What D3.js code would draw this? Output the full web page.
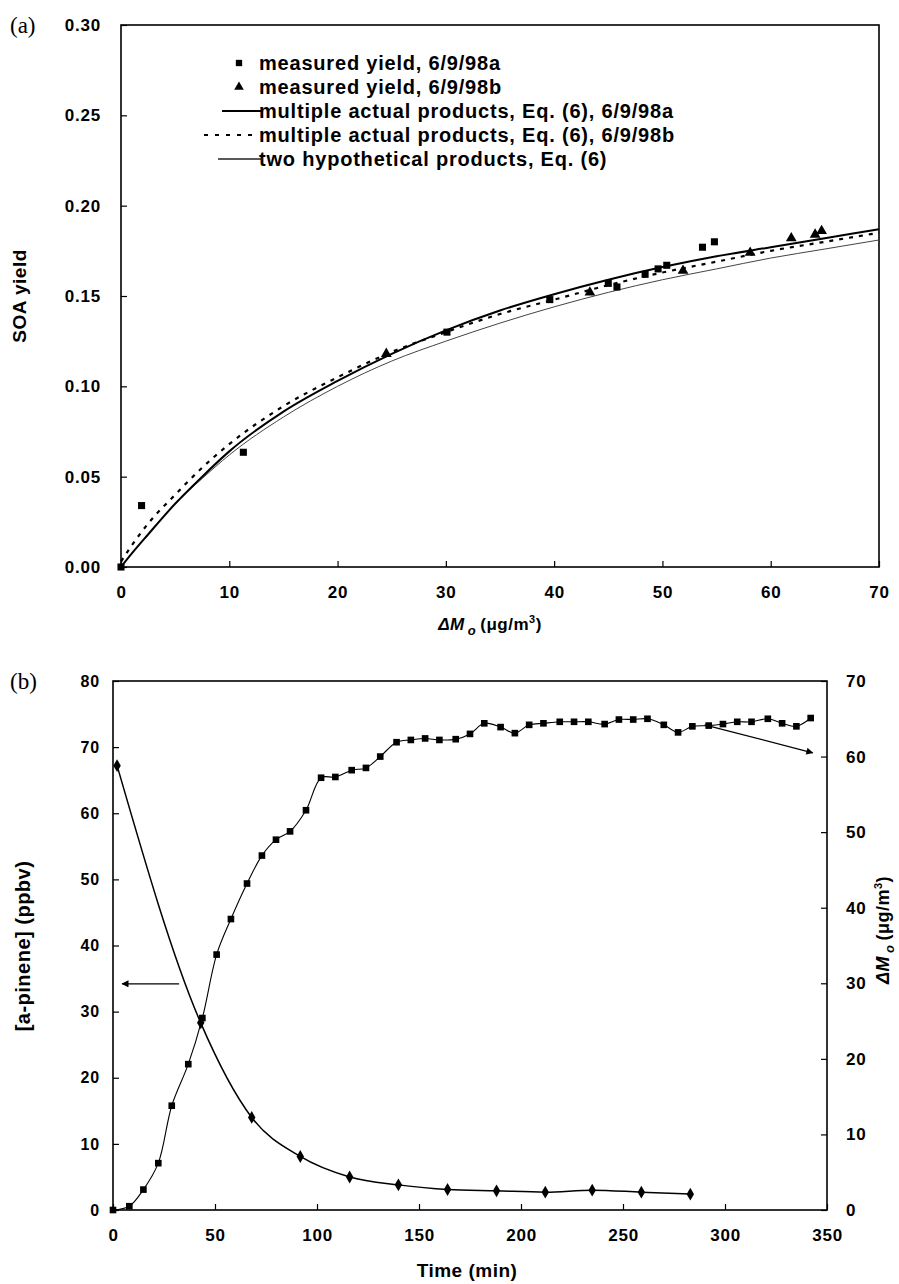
<!DOCTYPE html>
<html>
<head>
<meta charset="utf-8">
<script src="https://cdn.jsdelivr.net/npm/d3@7"></script>
<style>
  body { margin: 0; background: #fff; }
  text { font-family: "Liberation Sans", Arial, sans-serif; font-weight: bold; fill: #000; }
  .panel-tag { font-family: "Liberation Serif", "Times New Roman", serif; font-weight: normal; font-size: 23px; }
</style>
</head>
<body>
<div id="chart-area"></div>
<script>
// ---- panel (a): SOA yield vs ΔMo ----
var yieldA = [[0, 0], [1.9, 0.034], [11.3, 0.0635], [30.1, 0.130], [39.6, 0.148], [45.0, 0.157],
  [45.8, 0.155], [48.4, 0.162], [49.6, 0.165], [50.4, 0.167], [53.7, 0.177], [54.8, 0.180]];
var yieldB = [[24.5, 0.118], [43.3, 0.152], [51.9, 0.164], [58.1, 0.174], [61.9, 0.182], [64.1, 0.184], [64.7, 0.186]];

var curveX = [0, 1, 2.5, 5, 7.5, 10, 15, 20, 25, 30, 35, 40, 45, 50, 55, 60, 65, 70];
var multiA = [0, 0.0075, 0.018, 0.035, 0.050, 0.064, 0.086, 0.103, 0.118, 0.131, 0.142, 0.151, 0.159, 0.166, 0.172, 0.177, 0.182, 0.187];
var multiB = [0.003, 0.012, 0.024, 0.040, 0.055, 0.068, 0.089, 0.105, 0.119, 0.130, 0.140, 0.148, 0.156, 0.163, 0.169, 0.175, 0.180, 0.185];
var twoHyp = [0, 0.0075, 0.018, 0.035, 0.049, 0.062, 0.083, 0.100, 0.114, 0.125, 0.135, 0.144, 0.152, 0.159, 0.165, 0.171, 0.176, 0.181];

var xTicksA = [0, 10, 20, 30, 40, 50, 60, 70];
var yTicksA = [0, 0.05, 0.10, 0.15, 0.20, 0.25, 0.30];

var legendA = ["measured yield, 6/9/98a", "measured yield, 6/9/98b",
  "multiple actual products, Eq. (6), 6/9/98a", "multiple actual products, Eq. (6), 6/9/98b",
  "two hypothetical products, Eq. (6)"];

// ---- panel (b): time series ----
var timeSq = [0, 8, 14.9, 22.2, 28.8, 36.9, 43.8, 50.8, 57.8, 65.7, 73, 79.9, 86.8, 94.6,
  102, 109, 117, 124, 131, 139, 146, 153, 160, 168, 175, 182, 190, 197, 204, 211, 219, 226,
  233, 241, 248, 255, 262, 270, 277, 284, 292, 299, 306, 313, 321, 328, 335, 342];
var dMo = [0, 0.5, 2.7, 6.2, 13.8, 19.3, 25.4, 33.8, 38.5, 43.2, 46.9, 49.0, 50.1, 52.9,
  57.2, 57.3, 58.2, 58.5, 60.0, 61.9, 62.2, 62.4, 62.2, 62.3, 63.0, 64.4, 63.9, 63.1, 64.2, 64.4, 64.6, 64.6,
  64.6, 64.3, 64.9, 64.9, 65.0, 64.2, 63.2, 64.0, 64.1, 64.3, 64.6, 64.6, 65.0, 64.4, 64.0, 65.1];

var timeDia = [2, 43, 68, 91.8, 116, 139.9, 164, 188, 211.9, 234.9, 259, 283];
var pinene = [67.2, 28.3, 14.0, 8.1, 5.0, 3.8, 3.1, 2.9, 2.7, 3.0, 2.7, 2.4];

var xTicksB = [0, 50, 100, 150, 200, 250, 300, 350];
var yTicksB = [0, 10, 20, 30, 40, 50, 60, 70, 80];
var y2TicksB = [0, 10, 20, 30, 40, 50, 60, 70];

var svg = d3.select("#chart-area").append("svg")
  .attr("width", 899).attr("height", 1284);
svg.append("rect").attr("width", 899).attr("height", 1284).attr("fill", "#fff");

// scales
var xa = d3.scaleLinear().domain([0, 70]).range([121, 879]);
var ya = d3.scaleLinear().domain([0, 0.3]).range([567, 25]);
var xb = d3.scaleLinear().domain([0, 350]).range([113, 827]);
var yb = d3.scaleLinear().domain([0, 80]).range([1210, 681]);
var yb2 = d3.scaleLinear().domain([0, 70]).range([1210, 681]);

function styleAxis(sel, size) {
  sel.select(".domain").remove();
  sel.selectAll("line").attr("stroke", "#000").attr("stroke-width", 1.2);
  sel.selectAll("text").attr("font-size", size + "px")
    .attr("font-family", "'Liberation Sans', Arial, sans-serif").attr("font-weight", "bold")
    .attr("letter-spacing", "0.8px");
}

// ===== panel (a) =====
var ga = svg.append("g");

ga.append("g").attr("transform", "translate(0," + ya(0) + ")")
  .call(d3.axisBottom(xa).tickValues(xTicksA).tickSize(-6).tickPadding(19))
  .call(styleAxis, 17);
ga.append("g").attr("transform", "translate(" + xa(0) + ",0)")
  .call(d3.axisLeft(ya).tickValues(yTicksA).tickSize(-6).tickPadding(20).tickFormat(d3.format(".2f")))
  .call(styleAxis, 17);

ga.append("rect")
  .attr("x", xa(0)).attr("y", ya(0.3))
  .attr("width", xa(70) - xa(0)).attr("height", ya(0) - ya(0.3))
  .attr("fill", "none").attr("stroke", "#000").attr("stroke-width", 1.6);

var lineA = d3.line().x(d => xa(d[0])).y(d => ya(d[1])).curve(d3.curveMonotoneX);
function zip(xs, ys) { return xs.map((x, i) => [x, ys[i]]); }

ga.append("path").datum(zip(curveX, twoHyp)).attr("d", lineA)
  .attr("fill", "none").attr("stroke", "#444").attr("stroke-width", 1);
ga.append("path").datum(zip(curveX, multiB)).attr("d", lineA)
  .attr("fill", "none").attr("stroke", "#000").attr("stroke-width", 2.2).attr("stroke-dasharray", "4,6");
ga.append("path").datum(zip(curveX, multiA)).attr("d", lineA)
  .attr("fill", "none").attr("stroke", "#000").attr("stroke-width", 2);

var sq = d3.symbol().type(d3.symbolSquare).size(50);
var tri = d3.symbol().type(d3.symbolTriangle).size(50);

ga.selectAll(".sqA").data(yieldA).enter().append("path")
  .attr("class", "sqA").attr("d", sq)
  .attr("transform", d => "translate(" + xa(d[0]) + "," + ya(d[1]) + ")");
ga.selectAll(".triB").data(yieldB).enter().append("path")
  .attr("class", "triB").attr("d", tri)
  .attr("transform", d => "translate(" + xa(d[0]) + "," + ya(d[1]) + ")");

// legend
var leg = ga.append("g");
var rowY = [63, 87, 111, 135, 159];
legendA.forEach(function(name, i) {
  leg.append("text").attr("x", 259).attr("y", rowY[i] + 7)
    .attr("font-size", "20px").attr("letter-spacing", "0.8px").text(name);
});
leg.append("path").attr("d", d3.symbol().type(d3.symbolSquare).size(40))
  .attr("transform", "translate(239," + rowY[0] + ")");
leg.append("path").attr("d", d3.symbol().type(d3.symbolTriangle).size(40))
  .attr("transform", "translate(239," + rowY[1] + ")");
leg.append("line").attr("x1", 222).attr("x2", 263).attr("y1", rowY[2]).attr("y2", rowY[2])
  .attr("stroke", "#000").attr("stroke-width", 1.8);
leg.append("line").attr("x1", 204).attr("x2", 256).attr("y1", rowY[3]).attr("y2", rowY[3])
  .attr("stroke", "#000").attr("stroke-width", 2.2).attr("stroke-dasharray", "4,7");
leg.append("line").attr("x1", 218).attr("x2", 263).attr("y1", rowY[4]).attr("y2", rowY[4])
  .attr("stroke", "#222").attr("stroke-width", 1.3);

// axis titles
ga.append("text").attr("transform", "translate(26," + 296 + ") rotate(-90)")
  .attr("text-anchor", "middle").attr("font-size", "19px").attr("letter-spacing", "0.5px").text("SOA yield");

function dmoLabel(sel) {
  sel.append("tspan").attr("font-style", "italic").text("ΔM");
  sel.append("tspan").attr("font-style", "italic").attr("font-size", "13px").attr("dy", 5).attr("dx", 3).text("o");
  sel.append("tspan").attr("dy", -5).attr("dx", 4).text("(μg/m");
  sel.append("tspan").attr("font-size", "11px").attr("dy", -7).text("3");
  sel.append("tspan").attr("dy", 7).text(")");
}
ga.append("text").attr("x", 490).attr("y", 630).attr("text-anchor", "middle")
  .attr("font-size", "17px").attr("letter-spacing", "0.5px").call(dmoLabel);

svg.append("text").attr("class", "panel-tag").attr("x", 10).attr("y", 33).text("(a)");

// ===== panel (b) =====
var gb = svg.append("g");

gb.append("g").attr("transform", "translate(0," + yb(0) + ")")
  .call(d3.axisBottom(xb).tickValues(xTicksB).tickSize(-6).tickPadding(19))
  .call(styleAxis, 17);
gb.append("g").attr("transform", "translate(" + xb(0) + ",0)")
  .call(d3.axisLeft(yb).tickValues(yTicksB).tickSize(-6).tickPadding(13))
  .call(styleAxis, 16);
gb.append("g").attr("transform", "translate(" + xb(350) + ",0)")
  .call(d3.axisRight(yb2).tickValues(y2TicksB).tickSize(-6).tickPadding(19))
  .call(styleAxis, 17);

gb.append("rect")
  .attr("x", xb(0)).attr("y", yb(80))
  .attr("width", xb(350) - xb(0)).attr("height", yb(0) - yb(80))
  .attr("fill", "none").attr("stroke", "#000").attr("stroke-width", 1.6);

var sqData = zip(timeSq, dMo);
var diaData = zip(timeDia, pinene);

gb.append("path").datum(sqData)
  .attr("d", d3.line().x(d => xb(d[0])).y(d => yb2(d[1])).curve(d3.curveCatmullRom))
  .attr("fill", "none").attr("stroke", "#000").attr("stroke-width", 1.1);
gb.append("path").datum(diaData)
  .attr("d", d3.line().x(d => xb(d[0])).y(d => yb(d[1])).curve(d3.curveMonotoneX))
  .attr("fill", "none").attr("stroke", "#000").attr("stroke-width", 1.5);

gb.selectAll(".sqB").data(sqData).enter().append("path")
  .attr("class", "sqB").attr("d", d3.symbol().type(d3.symbolSquare).size(44))
  .attr("transform", d => "translate(" + xb(d[0]) + "," + yb2(d[1]) + ")");
gb.selectAll(".dia").data(diaData).enter().append("path")
  .attr("class", "dia").attr("d", d3.symbol().type(d3.symbolDiamond).size(48))
  .attr("transform", d => "translate(" + xb(d[0]) + "," + yb(d[1]) + ")");

// arrows
var defs = svg.append("defs");
defs.append("marker").attr("id", "arr").attr("viewBox", "0 0 10 10")
  .attr("refX", 9).attr("refY", 5).attr("markerWidth", 10).attr("markerHeight", 7)
  .attr("markerUnits", "userSpaceOnUse").attr("orient", "auto")
  .append("path").attr("d", "M0,0 L10,5 L0,10 z").attr("fill", "#000");

gb.append("line")
  .attr("x1", xb(32.4)).attr("y1", yb(34.2)).attr("x2", xb(4.5)).attr("y2", yb(34.2))
  .attr("stroke", "#000").attr("stroke-width", 1.3).attr("marker-end", "url(#arr)");
gb.append("line")
  .attr("x1", xb(290)).attr("y1", yb2(64.2)).attr("x2", xb(343)).attr("y2", yb2(60.5))
  .attr("stroke", "#000").attr("stroke-width", 1.3).attr("marker-end", "url(#arr)");

gb.append("text").attr("transform", "translate(30,946) rotate(-90)")
  .attr("text-anchor", "middle").attr("font-size", "20px").attr("letter-spacing", "0.5px").text("[a-pinene] (ppbv)");
gb.append("text").attr("x", 467).attr("y", 1277).attr("text-anchor", "middle")
  .attr("font-size", "19px").attr("letter-spacing", "0.5px").text("Time (min)");
gb.append("text").attr("transform", "translate(889,930) rotate(-90)")
  .attr("text-anchor", "middle").attr("font-size", "18px").attr("letter-spacing", "0.5px").call(dmoLabel);

svg.append("text").attr("class", "panel-tag").attr("x", 10).attr("y", 689).text("(b)");
</script>
</body>
</html>
